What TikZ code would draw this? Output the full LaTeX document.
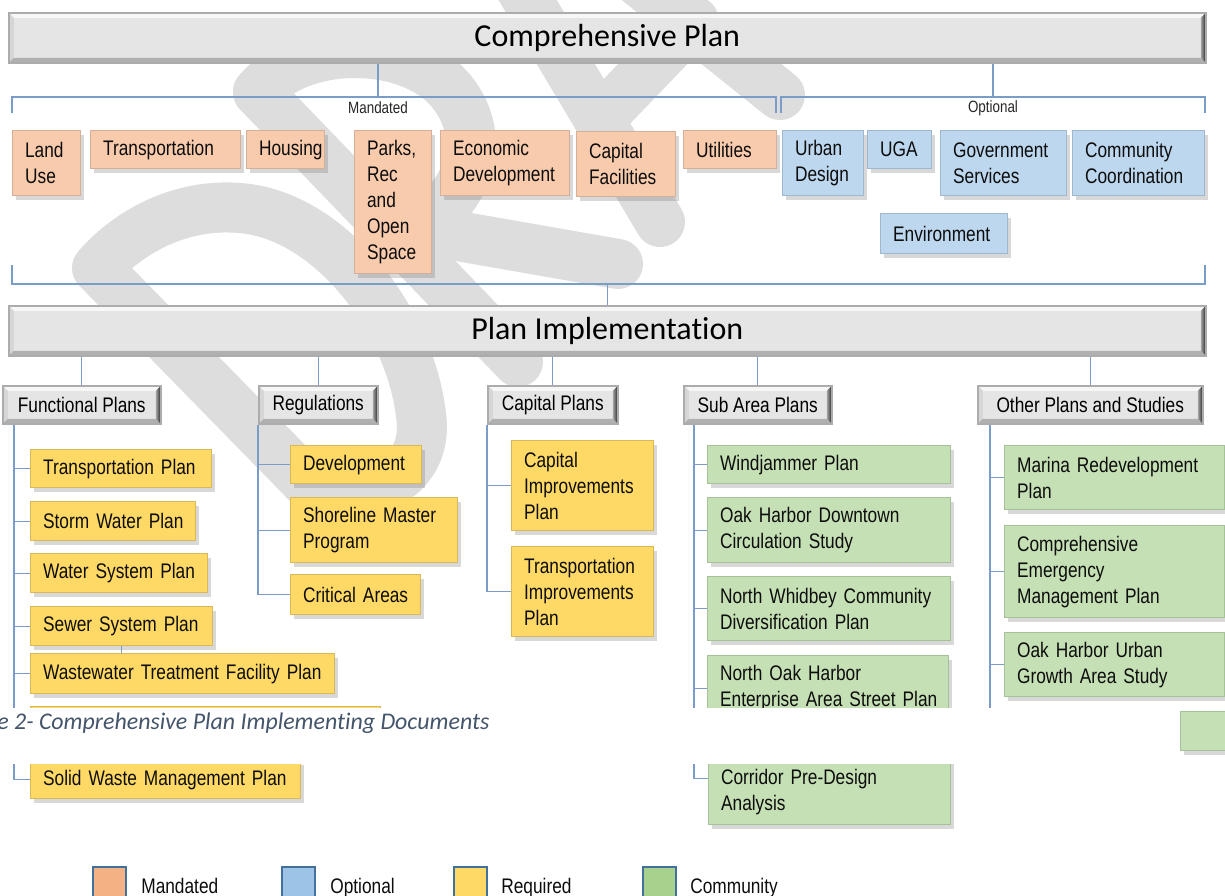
\documentclass[tikz,border=0pt]{standalone}
\usepackage{fontspec}
\setmainfont{Liberation Sans}[FakeStretch=0.82]
\newfontfamily\titlefont{Carlito}[Ligatures=NoCommon]
\usetikzlibrary{shadows}

\definecolor{mandfill}{HTML}{F8CBAD}
\definecolor{mandline}{HTML}{D4B09A}
\definecolor{optfill}{HTML}{BDD7EE}
\definecolor{optline}{HTML}{9FB8D0}
\definecolor{reqfill}{HTML}{FFD966}
\definecolor{reqline}{HTML}{D8B858}
\definecolor{comfill}{HTML}{C5E0B4}
\definecolor{comline}{HTML}{A6C098}
\definecolor{linkblue}{HTML}{7A9CC8}
\definecolor{wmgray}{HTML}{DDDDDD}
\definecolor{capblue}{HTML}{44546A}
\definecolor{keymand}{HTML}{F4B183}
\definecolor{keyopt}{HTML}{9DC3E6}
\definecolor{keyreq}{HTML}{FFD966}
\definecolor{keycom}{HTML}{A9D18E}
\definecolor{keyline}{HTML}{41719C}

\newcommand{\boxfont}{\fontsize{12}{14.8}\selectfont\hyphenpenalty=10000\exhyphenpenalty=10000}
\newcommand{\barfont}{\titlefont\fontsize{18.2}{22}\selectfont}
\newcommand{\tagfont}{\fontsize{9.3}{11}\selectfont}

\begin{document}
\begin{tikzpicture}[x=0.2mm, y=-0.2mm,
  planbox/.style={rectangle, anchor=north west, align=left, inner xsep=2.5mm,
    inner ysep=0pt, font=\boxfont, text=black!95, line width=0.25mm,
    drop shadow={shadow xshift=0.7mm, shadow yshift=-0.8mm, fill=black!60, opacity=0.25}},
  mand/.style={planbox, fill=mandfill, draw=mandline},
  opt/.style={planbox, fill=optfill, draw=optline},
  req/.style={planbox, fill=reqfill, draw=reqline},
  com/.style={planbox, fill=comfill, draw=comline},
  bevel/.style={rectangle, anchor=north west, inner sep=0pt, draw=gray!65,
    line width=0.3mm, fill=gray!20, text=black,
    path picture={
      \path (path picture bounding box.north west) coordinate (q1)
            (path picture bounding box.north east) coordinate (q2)
            (path picture bounding box.south east) coordinate (q3)
            (path picture bounding box.south west) coordinate (q4);
      \fill[gray!6] (q1) -- (q2) -- ([shift={(-1mm,-1mm)}]q2) -- ([shift={(1mm,-1mm)}]q1) -- cycle;
      \fill[gray!32] (q1) -- ([shift={(1mm,-1mm)}]q1) -- ([shift={(1mm,1mm)}]q4) -- (q4) -- cycle;
      \fill[gray!62] (q4) -- ([shift={(1mm,1mm)}]q4) -- ([shift={(-1mm,1mm)}]q3) -- (q3) -- cycle;
      \shade[left color=gray!70, right color=black!85] (q2) -- (q3)
        -- ([shift={(-1mm,1mm)}]q3) -- ([shift={(-1mm,-1mm)}]q2) -- cycle;
    }},
  titlebar/.style={bevel, minimum width=239.4mm, minimum height=10mm, font=\barfont},
  grpbox/.style={bevel, minimum height=7.6mm, font=\boxfont},
  link/.style={draw=linkblue, line width=0.25mm},
  tag/.style={inner sep=0pt, font=\tagfont, text=black!85},
  wmark/.style={draw=wmgray, line width=10mm, line cap=round, line join=round},
  keybox/.style={rectangle, anchor=north west, draw=keyline, line width=0.45mm,
    minimum width=6.6mm, minimum height=8mm, inner sep=0pt},
  keytext/.style={anchor=base west, inner sep=0pt, font=\boxfont, text=black!95}
]
\useasboundingbox (0,0) rectangle (1225,896);
\fill[white] (0,0) rectangle (1225,896);

% watermark letters behind everything
\draw[wmark] (97,268) -- (318,494) .. controls (395,500) and (428,462) .. (421,415)
  .. controls (410,320) and (330,215) .. (240,208) .. controls (180,203) and (128,232) .. cycle;
\draw[wmark] (258,92) -- (518,362);
\draw[wmark] (258,92) .. controls (300,40) and (410,40) .. (452,92)
  .. controls (490,140) and (470,205) .. (398,240);
\draw[wmark] (412,228) -- (618,264);
\draw[wmark] (468,-100) -- (660,222);
\draw[wmark] (537,-100) -- (780,95);
\draw[wmark] (599,120) -- (694,21);

% the two bars
\node[titlebar] (comp) at (8,12) {Comprehensive Plan};
\node[titlebar] (impl) at (8,305) {Plan Implementation};

% mandated elements
\node[mand, text width=8.6mm, minimum height=13mm] (landuse) at (12,130) {Land\\Use};
\node[mand, text width=25mm, minimum height=7.6mm] (transp) at (90,130) {Transportation};
\node[mand, text width=10.6mm, minimum height=7.6mm] (housing) at (246,130) {Housing};
\node[mand, text width=10.4mm, minimum height=28.6mm] (parks) at (354,130) {Parks,\\Rec\\and\\Open\\Space};
\node[mand, text width=20.8mm, minimum height=13mm] (econ) at (440,130) {Economic\\Development};
\node[mand, text width=14.8mm, minimum height=13mm] (capfac) at (576,131) {Capital\\Facilities};
\node[mand, text width=13.6mm, minimum height=7.6mm] (util) at (683,130) {Utilities};

% optional elements
\node[opt, text width=11.2mm, minimum height=13mm] (urban) at (782,130) {Urban\\Design};
\node[opt, text width=7.8mm, minimum height=7.6mm] (uga) at (867,130) {UGA};
\node[opt, text width=20.2mm, minimum height=13mm] (govserv) at (940,130) {Government\\Services};
\node[opt, text width=21.4mm, minimum height=13mm] (commco) at (1072,130) {Community\\Coordination};
\node[opt, text width=20.4mm, minimum height=8mm] (environ) at (880,213) {Environment};

% implementing groups
\node[grpbox, minimum width=31.6mm] (funcp) at (2,385) {Functional Plans};
\node[grpbox, minimum width=23.8mm] (regs) at (258,385) {Regulations};
\node[grpbox, minimum width=26mm] (capp) at (487,385) {Capital Plans};
\node[grpbox, minimum width=29.6mm] (subp) at (683,385) {Sub Area Plans};
\node[grpbox, minimum width=45mm] (othp) at (977,385) {Other Plans and Studies};

% functional plans
\node[req, text width=31.2mm, minimum height=7.6mm] (tplan) at (30,449) {Transportation~Plan};
\node[req, text width=28mm, minimum height=7.8mm] (storm) at (30,501) {Storm~Water~Plan};
\node[req, text width=30.4mm, minimum height=7.8mm] (water) at (30,553) {Water~System~Plan};
\node[req, text width=31.4mm, minimum height=7.8mm] (sewer) at (30,606) {Sewer~System~Plan};
\node[req, text width=55.8mm, minimum height=8mm] (wtf) at (30,653) {Wastewater~Treatment~Facility~Plan};
\node[req, text width=65mm, minimum height=8mm] (wtfnext) at (30,705.5) {};
\node[req, text width=49mm, minimum height=7.6mm] (solid) at (30,760) {Solid~Waste~Management~Plan};

% regulations and capital plans
\node[req, text width=21.2mm, minimum height=7.6mm] (devel) at (290,445) {Development};
\node[req, text width=28.4mm, minimum height=13mm] (shore) at (290,497) {Shoreline~Master\\Program};
\node[req, text width=21mm, minimum height=8mm] (crit) at (290,574) {Critical~Areas};
\node[req, text width=23.4mm, minimum height=18mm] (cip) at (511,440) {Capital\\Improvements\\Plan};
\node[req, text width=23.4mm, minimum height=18mm] (tip) at (511,546) {Transportation\\Improvements\\Plan};

% sub area plans
\node[com, text width=43.6mm, minimum height=7.6mm] (wind) at (707,445) {Windjammer~Plan};
\node[com, text width=43.6mm, minimum height=13mm] (ohdc) at (707,497) {Oak~Harbor~Downtown\\Circulation~Study};
\node[com, text width=43.6mm, minimum height=12.8mm] (nwcd) at (707,576) {North~Whidbey~Community\\Diversification~Plan};
\node[com, text width=43.2mm, minimum height=13mm] (noh) at (707,655) {North~Oak~Harbor\\Enterprise~Area~Street~Plan};
\node[com, text width=43.4mm, minimum height=13.2mm] (corr) at (708,758) {Corridor~Pre-Design\\Analysis};

% other plans and studies
\node[com, text width=39mm, minimum height=12.8mm] (marina) at (1004,445) {Marina~Redevelopment\\Plan};
\node[com, text width=39mm, minimum height=18.4mm] (cemp) at (1004,525) {Comprehensive\\Emergency\\Management~Plan};
\node[com, text width=39mm, minimum height=12.8mm] (ohug) at (1004,632) {Oak~Harbor~Urban\\Growth~Area~Study};

% brackets under the plan
\coordinate (mandL) at (12,97);
\coordinate (mandR) at (776,97);
\coordinate (mandM) at (378,97);
\coordinate (optL) at (781,97);
\coordinate (optR) at (1205,97);
\coordinate (optM) at (993,97);
\coordinate (grpL) at (12,284);
\coordinate (grpR) at (1205,284);

\draw[link] (comp.south -| mandM) -- (mandM);
\draw[link] (comp.south -| optM) -- (optM);
\draw[link] ([yshift=-3.2mm]mandL) -- (mandL) -- (mandR) -- ([yshift=-3.2mm]mandR);
\draw[link] ([yshift=-3.2mm]optL) -- (optL) -- (optR) -- ([yshift=-3.2mm]optR);
\draw[link] ([yshift=3.8mm]grpL) -- (grpL) -- (grpR) -- ([yshift=3.8mm]grpR);
\draw[link] (impl.north) -- (impl.north |- grpL);
\node[tag] (mandtag) at (378,108) {Mandated};
\node[tag] (opttag) at (993,108) {Optional};

\foreach \g in {funcp,regs,capp,subp,othp}
  \draw[link] (\g.north) -- (\g.north |- impl.south);

% trunks and branches
\coordinate (ftrunk) at ([xshift=2.4mm]funcp.south west);
\draw[link] (ftrunk) |- (solid.west);
\foreach \n in {tplan,storm,water,sewer,wtf,wtfnext}
  \draw[link] (\n.west) -- (\n.west -| ftrunk);
\draw[link] (sewer.south) -- (sewer.south |- wtf.north);

\draw[link] (regs.south west) |- (crit.west);
\foreach \n in {devel,shore}
  \draw[link] (\n.west) -- (\n.west -| regs.south west);

\draw[link] (capp.south west) |- (tip.west);
\draw[link] (cip.west) -- (cip.west -| capp.south west);

\coordinate (strunk) at ([xshift=2.2mm]subp.south west);
\draw[link] (strunk) |- ([yshift=2.6mm]corr.west);
\foreach \n in {wind,ohdc,nwcd,noh}
  \draw[link] (\n.west) -- (\n.west -| strunk);

\coordinate (otrunk) at ([xshift=2.6mm]othp.south west);
\draw[link] (otrunk) -- ++(0,-60mm);
\foreach \n in {marina,cemp,ohug}
  \draw[link] (\n.west) -- (\n.west -| otrunk);

% caption strip across the chart
\fill[white] (-10,707.5) rectangle (1235,764);
\node[com, minimum width=12mm, minimum height=7.8mm, inner sep=0pt] (frag) at (1180,711) {};
\node[anchor=base west, inner sep=0pt, text=capblue,
  font=\titlefont\itshape\fontsize{13.6}{16}\selectfont] (caption) at (-3,729)
  {e 2- Comprehensive Plan Implementing Documents};

% key
\node[keybox, fill=keymand] (kmand) at (92,866) {};
\node[keytext] (kmandlab) at (141,893) {Mandated};
\node[keybox, fill=keyopt] (kopt) at (281,866) {};
\node[keytext] (koptlab) at (330,893) {Optional};
\node[keybox, fill=keyreq] (kreq) at (453,866) {};
\node[keytext] (kreqlab) at (501,893) {Required};
\node[keybox, fill=keycom] (kcom) at (642,866) {};
\node[keytext] (kcomlab) at (690,893) {Community};
\end{tikzpicture}
\end{document}
